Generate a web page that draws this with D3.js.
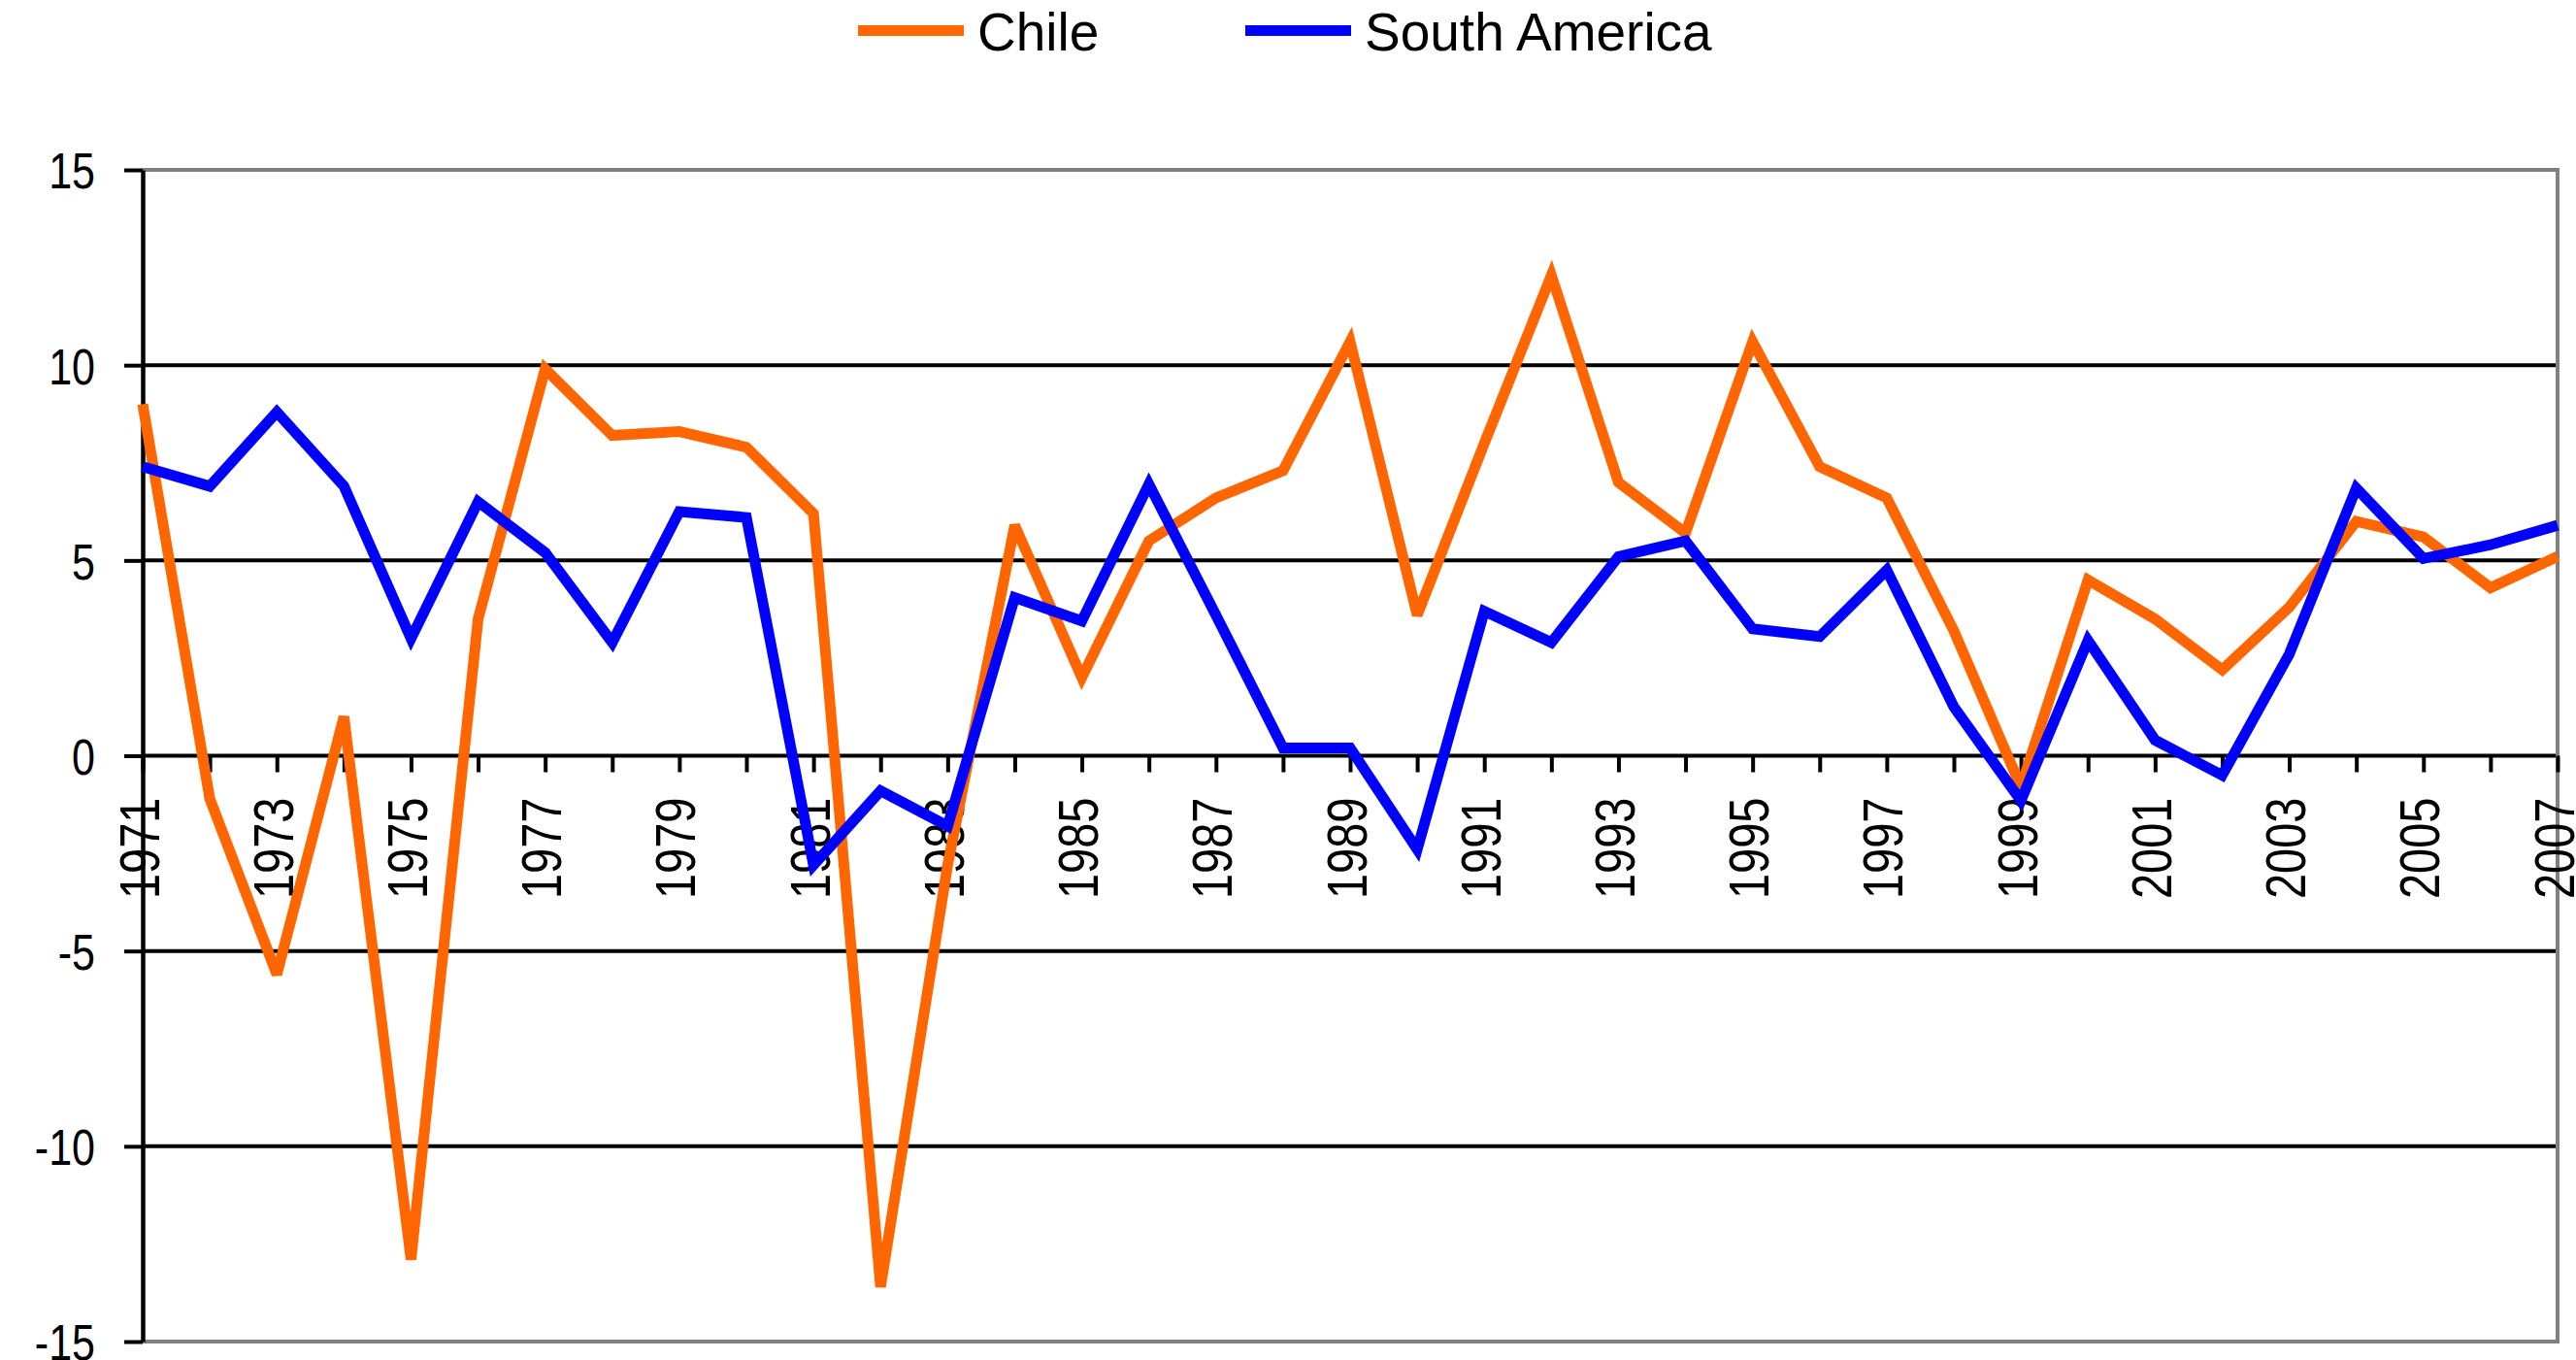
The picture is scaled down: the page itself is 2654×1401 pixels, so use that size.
<!DOCTYPE html>
<html>
<head>
<meta charset="utf-8">
<script src="https://cdn.jsdelivr.net/npm/d3@7"></script>
<style>
  body { margin: 0; background: #fff; }
  svg text { font-family: "Liberation Sans", Arial, sans-serif; fill: #000; }
</style>
</head>
<body>
<svg id="chart" width="2654" height="1401"></svg>
<script>
// data
var years = [1971, 1972, 1973, 1974, 1975, 1976, 1977, 1978, 1979, 1980,
             1981, 1982, 1983, 1984, 1985, 1986, 1987, 1988, 1989, 1990,
             1991, 1992, 1993, 1994, 1995, 1996, 1997, 1998, 1999, 2000,
             2001, 2002, 2003, 2004, 2005, 2006, 2007];

var chile = [9.0, -1.1, -5.6, 1.0, -12.9, 3.5, 9.9, 8.2, 8.3, 7.9,
             6.2, -13.6, -2.8, 5.9, 2.0, 5.5, 6.6, 7.3, 10.6, 3.6,
             8.0, 12.3, 7.0, 5.7, 10.6, 7.4, 6.6, 3.2, -0.8, 4.5,
             3.5, 2.2, 3.8, 6.0, 5.6, 4.3, 5.1];

var southAmerica = [7.4, 6.9, 8.8, 6.9, 3.0, 6.5, 5.2, 2.9, 6.25, 6.1,
                    -2.8, -0.9, -1.8, 4.05, 3.45, 6.95, 3.6, 0.2, 0.2, -2.4,
                    3.7, 2.9, 5.1, 5.5, 3.25, 3.05, 4.75, 1.25, -1.15, 2.95,
                    0.4, -0.5, 2.6, 6.85, 5.05, 5.4, 5.9];

var yTicks = [-15, -10, -5, 0, 5, 10, 15];
var yTickLabels = ['-15', '-10', '-5', '0', '5', '10', '15'];
var xTickLabels = ['1971', '1973', '1975', '1977', '1979', '1981', '1983', '1985', '1987', '1989',
                   '1991', '1993', '1995', '1997', '1999', '2001', '2003', '2005', '2007'];

var seriesNames = ['Chile', 'South America'];
var seriesColors = ['#ff6600', '#0000ff'];

// layout
var svg = d3.select('#chart'),
    plotLeft = 147, plotRight = 2635, plotTop = 175, plotBottom = 1382;

var x = d3.scalePoint()
    .domain(years)
    .range([plotLeft, plotRight]);

var y = d3.scaleLinear()
    .domain([-15, 15])
    .range([plotBottom, plotTop]);

// grid lines (inner ones black, frame grey)
svg.append('g').selectAll('line').data(yTicks.filter(function(d) { return d > -15 && d < 15; }))
  .enter().append('line')
    .attr('x1', plotLeft).attr('x2', plotRight)
    .attr('y1', y).attr('y2', y)
    .attr('stroke', '#000')
    .attr('stroke-width', 4);

svg.append('path')
    .attr('d', 'M' + plotLeft + ',' + y(15) + 'H' + x(2007) + 'V' + y(-15) + 'H' + plotLeft)
    .attr('fill', 'none')
    .attr('stroke', '#808080')
    .attr('stroke-width', 4);

// y axis
var yAxis = svg.append('g')
    .attr('transform', 'translate(' + plotLeft + ',0)')
    .call(d3.axisLeft(y)
        .tickValues(yTicks)
        .tickSize(19)
        .tickSizeOuter(0)
        .tickFormat(function(d, i) { return yTickLabels[i]; }));
yAxis.select('.domain').attr('stroke', '#000').attr('stroke-width', 4.5);
yAxis.selectAll('.tick line').attr('stroke', '#000').attr('stroke-width', 4);
yAxis.selectAll('.tick text')
    .attr('x', null).attr('dy', null)
    .attr('transform', 'translate(-49,0) scale(1,1.22) translate(0,15.5)')
    .attr('text-anchor', 'end')
    .style('font-size', '43px')
    .style('font-family', '"Liberation Sans", Arial, sans-serif');

// x axis along the zero line, labels on every other year
var xAxis = svg.append('g')
    .attr('transform', 'translate(0,' + y(0) + ')')
    .call(d3.axisBottom(x)
        .tickSize(17)
        .tickSizeOuter(0)
        .tickFormat(function(d) { return xTickLabels.indexOf(String(d)) >= 0 ? String(d) : ''; }));
xAxis.select('.domain').remove();
xAxis.selectAll('.tick line').attr('stroke', '#000').attr('stroke-width', 4);
xAxis.selectAll('.tick text')
    .attr('y', null).attr('dy', null)
    .attr('transform', 'translate(16,43) rotate(-90) scale(1,1.22)')
    .attr('text-anchor', 'end')
    .style('font-size', '47px')
    .style('font-family', '"Liberation Sans", Arial, sans-serif');

// lines
var line = d3.line()
    .x(function(d, i) { return x(years[i]); })
    .y(function(d) { return y(d); });

svg.append('g').selectAll('path').data([chile, southAmerica])
  .enter().append('path')
    .attr('d', line)
    .attr('fill', 'none')
    .attr('stroke', function(d, i) { return seriesColors[i]; })
    .attr('stroke-width', 11)
    .attr('stroke-linejoin', 'miter')
    .attr('stroke-miterlimit', 3);

// legend
var legendX = [884, 1283];
var legend = svg.append('g').selectAll('g').data(seriesNames)
  .enter().append('g')
    .attr('transform', function(d, i) { return 'translate(' + legendX[i] + ',31.5)'; });
legend.append('line')
    .attr('x1', 0).attr('x2', 109)
    .attr('stroke', function(d, i) { return seriesColors[i]; })
    .attr('stroke-width', 11);
legend.append('text')
    .attr('x', 123)
    .attr('y', 20.5)
    .style('font-size', '55px')
    .text(function(d) { return d; });
</script>
</body>
</html>
